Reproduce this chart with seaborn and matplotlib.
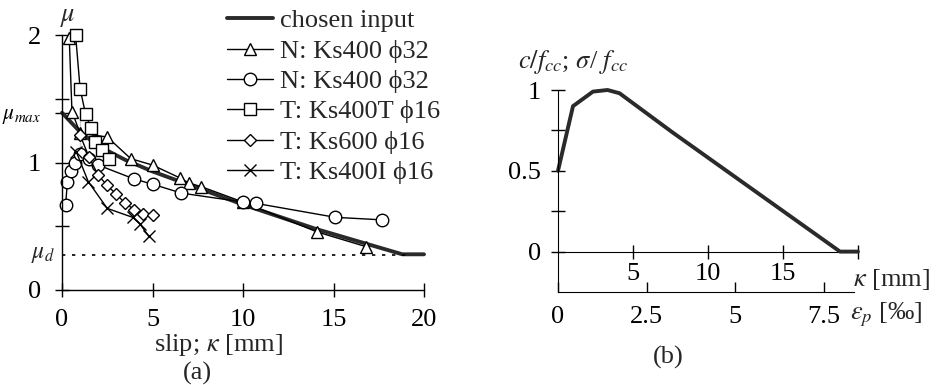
import numpy as np
import pandas as pd
import matplotlib
matplotlib.use("Agg")
import matplotlib.pyplot as plt
import seaborn as sns

sns.set_style("ticks")
plt.rcParams['font.family'] = ['Liberation Serif', 'DejaVu Serif']
plt.rcParams['mathtext.fontset'] = 'stix'

# ---------------- data: panel (a) ----------------
mu_max = 1.39
mu_d = 0.275

chosen_x = [0, 1.0, 2.0, 3.5, 5.0, 7.5, 10.0, 14.0, 18.8, 20.0]
chosen_y = [1.39, 1.24, 1.13, 1.02, 0.93, 0.80, 0.67, 0.48, 0.28, 0.28]

tri_x = [0.4, 0.55, 1.0, 2.5, 3.8, 5.0, 6.5, 7.0, 7.7, 10.0, 14.1, 16.8]
tri_y = [1.98, 1.40, 1.23, 1.20, 1.03, 0.98, 0.88, 0.84, 0.81, 0.69, 0.455, 0.34]

circ_x = [0.2, 0.3, 0.5, 0.7, 1.0, 1.5, 2.0, 4.0, 5.0, 6.6, 10.0, 10.7, 15.1, 17.7]
circ_y = [0.67, 0.85, 0.93, 1.0, 1.07, 1.03, 0.98, 0.87, 0.83, 0.76, 0.69, 0.68, 0.57, 0.55]

sq_x = [0.75, 1.0, 1.3, 1.6, 1.8, 2.2, 2.6]
sq_y = [2.0, 1.58, 1.38, 1.27, 1.16, 1.10, 1.03]

dia_x = [1.0, 1.0, 1.5, 2.0, 2.5, 3.0, 3.5, 4.0, 4.5, 5.0]
dia_y = [1.36, 1.07, 1.04, 0.90, 0.82, 0.75, 0.68, 0.63, 0.60, 0.59]

x_x = [0.8, 1.45, 2.5, 3.9, 4.3, 4.8]
x_y = [1.08, 0.85, 0.64, 0.57, 0.52, 0.42]

labels_a = ["chosen input", "N: Ks400 \u03d532", "N: Ks400 \u03d532",
            "T: Ks400T \u03d516", "T: Ks600 \u03d516", "T: Ks400I \u03d516"]

# ---------------- data: panel (b) ----------------
kappa_b = [0, 1.0, 2.33, 3.3, 4.1, 7.6, 18.8, 20.0]
sigma_b = [0.5, 0.90, 0.99, 1.0, 0.98, 0.74, 0.0, 0.0]
eps_ticks = [0, 2.5, 5, 7.5]
eps_factor = 2.36  # kappa [mm] per eps [permille]

W, H = 938, 385
fig = plt.figure(figsize=(W / 100, H / 100), dpi=100)

def px_axes(l, t, r, b):
    return fig.add_axes([l / W, 1 - b / H, (r - l) / W, (b - t) / H])

FS = 19
ink = "black"

# ---------------- panel (a) ----------------
ax = px_axes(62, 35, 424, 290)
ax.set_xlim(0, 20)
ax.set_ylim(0, 2)

sns.lineplot(x=chosen_x, y=chosen_y, ax=ax, sort=False, color="#2a2a2a",
             lw=2.8, label=labels_a[0], clip_on=False)
series = [(tri_x, tri_y, "^"), (circ_x, circ_y, "o"), (sq_x, sq_y, "s"),
          (dia_x, dia_y, "D"), (x_x, x_y, "x")]
for (xs, ys, m), lab in zip(series, labels_a[1:]):
    ms = 6.5 if m == "D" else 9
    sns.lineplot(x=xs, y=ys, ax=ax, sort=False, color=ink, lw=1.0,
                 marker=m, markersize=ms, markerfacecolor="white",
                 markeredgecolor=ink, markeredgewidth=1.0, label=lab,
                 clip_on=False)

ax.hlines(mu_d, 0, 19, colors=ink, linestyles=(0, (2, 4)), lw=1.2)

for s in ["top", "right"]:
    ax.spines[s].set_visible(False)
for s in ["left", "bottom"]:
    ax.spines[s].set_linewidth(1.0)
    ax.spines[s].set_color(ink)

ax.set_xticks([0, 5, 10, 15, 20])
ax.set_xticklabels(["0", "5", "10", "15", "20"])
ax.set_yticks([0, 0.5, 1, mu_max, 1.5, 2])
ax.set_yticklabels(["0", "", "1", r"$\mu_{max}$", "", "2"])
ax.tick_params(direction="inout", length=10, width=1.0, labelsize=FS,
               colors=ink)
ax.tick_params(axis="y", pad=10)
ax.tick_params(axis="x", pad=9)
ax.get_yticklabels()[3].set_fontsize(15.5)
ax.text(-0.02, mu_d, r"$\mu_{d}$", transform=ax.get_yaxis_transform(),
        ha="right", va="center", fontsize=17)
ax.text(68 / W, 1 - 18 / H, r"$\mu$", transform=fig.transFigure,
        ha="center", va="center", fontsize=FS)
ax.set_xlabel("")
ax.set_ylabel("")
fig.text(218 / W, 1 - 345 / H, "slip; $\\kappa$ [mm]", ha="center",
         va="center", fontsize=FS)
fig.text(197 / W, 1 - 373 / H, "(a)", ha="center", va="center", fontsize=FS)

leg = ax.legend(loc="upper left", bbox_to_anchor=(227 / W, 1 - 9 / H),
                bbox_transform=fig.transFigure, frameon=False, fontsize=FS,
                handlelength=1.75, handletextpad=0.27, labelspacing=0.26,
                borderpad=0, borderaxespad=0)

# ---------------- panel (b) ----------------
bx = px_axes(558, 90, 858, 292)
bx.set_xlim(0, 20)
bx.set_ylim(-0.25, 1.0)
sns.lineplot(x=kappa_b, y=sigma_b, ax=bx, sort=False, color="#2a2a2a",
             lw=2.8, clip_on=False)
for s in ["top", "right"]:
    bx.spines[s].set_visible(False)
bx.spines["left"].set_color(ink)
bx.spines["bottom"].set_color(ink)
bx.spines["bottom"].set_bounds(0, 19.7)
bx.set_yticks([0, 0.25, 0.5, 0.75, 1.0])
bx.set_yticklabels(["0", "", "0.5", "", "1"])
bx.set_xticks([e * eps_factor for e in eps_ticks])
bx.set_xticklabels([str(e) for e in eps_ticks])
bx.tick_params(axis="y", direction="inout", length=10, width=1.0,
               labelsize=FS, colors=ink, pad=7)
bx.tick_params(axis="x", direction="in", length=7, width=1.0,
               labelsize=FS, colors=ink, pad=10)
bx.set_xlabel("")
bx.set_ylabel("")

kx = bx.secondary_xaxis(0.2)
kx.set_xticks([5, 10, 15, 20])
kx.set_xticklabels(["5", "10", "15", ""])
kx.tick_params(direction="inout", length=10, width=1.0, labelsize=FS,
               colors=ink, pad=3)
kx.spines["bottom"].set_color(ink)

fig.text(853 / W, 1 - 280 / H, "$\\kappa$ [mm]", ha="left", va="center",
         fontsize=FS)
fig.text(850 / W, 1 - 315 / H, r"$\varepsilon_p$ [‰]", ha="left",
         va="center", fontsize=FS)
fig.text(518 / W, 1 - 62 / H, r"$c/f_{cc}$; $\sigma$/ $f_{cc}$", ha="left",
         va="center", fontsize=FS)
fig.text(668 / W, 1 - 357 / H, "(b)", ha="center", va="center", fontsize=FS)

fig.savefig("out.png", dpi=100)
